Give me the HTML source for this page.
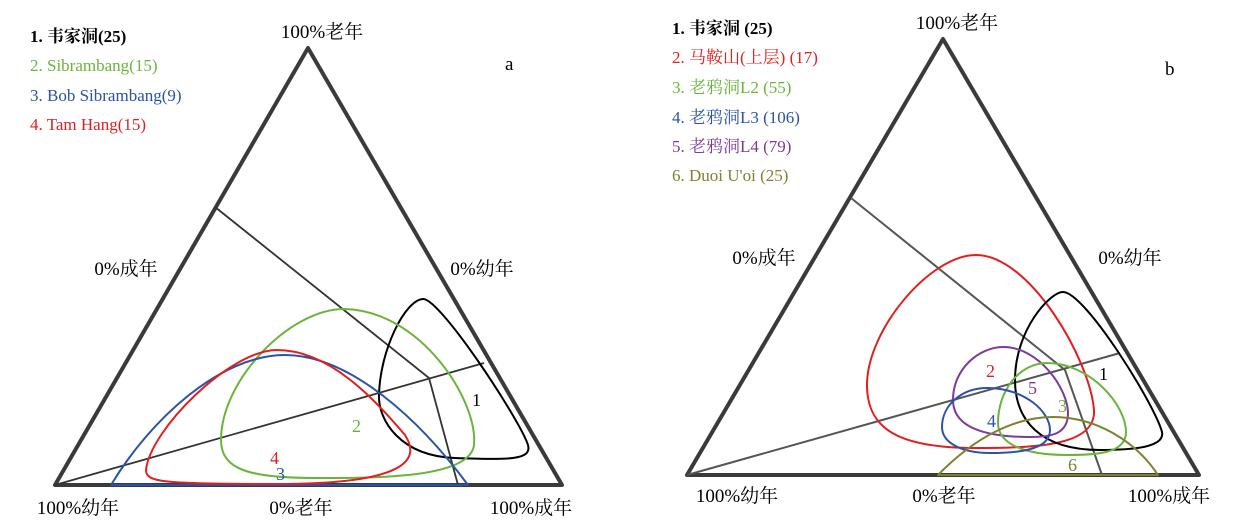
<!DOCTYPE html>
<html><head><meta charset="utf-8"><style>
html,body{margin:0;padding:0;background:#fff;}
svg{display:block;}
text{font-family:"Liberation Serif","Noto Serif CJK SC","Noto Sans CJK SC",serif;}
</style></head><body>
<svg width="1234" height="530" viewBox="0 0 1234 530" xmlns="http://www.w3.org/2000/svg">
<!-- Panel a -->
<g fill="none" stroke-linejoin="round">
<path d="M308,48 L55,485 L562,485 Z" stroke="#3a3a3a" stroke-width="4"/>
<path d="M215,207 L429,378 L458,485" stroke="#333" stroke-width="1.8"/>
<path d="M55,485 L484,363" stroke="#333" stroke-width="1.8"/>
<path d="M423,299 C440,298 520,420 528,445 C532,460 510,460 455,458 C400,456 378,420 379,395 C380,350 405,300 423,299 Z" stroke="#000" stroke-width="2"/>
<path d="M344,309 C420,310 478,400 474,445 C470,478 380,478 316,478 C250,478 221,470 221,440 C221,380 290,309 344,309 Z" stroke="#6ab43c" stroke-width="2"/>
<path d="M111,485 C150,420 220,355 285,355 C350,355 420,420 468,485 Z" stroke="#2a52a8" stroke-width="2"/>
<path d="M277,350 C330,350 375,400 405,435 C418,455 418,484 277,484 C160,484 146,482 146,470 C150,430 230,350 277,350 Z" stroke="#e02020" stroke-width="2"/>
</g>
<g font-size="18">
<text x="472" y="406" fill="#000">1</text>
<text x="352" y="432" fill="#6ab43c">2</text>
<text x="270" y="464" fill="#e02020">4</text>
<text x="276" y="480" fill="#2a52a8">3</text>
</g>
<g font-size="17">
<text x="30" y="42" fill="#000" font-weight="bold">1. 韦家洞(25)</text>
<text x="30" y="71" fill="#6ab43c">2. Sibrambang(15)</text>
<text x="30" y="101" fill="#2a52a8">3. Bob Sibrambang(9)</text>
<text x="30" y="130" fill="#e02020">4. Tam Hang(15)</text>
</g>
<text x="505" y="70" font-size="19">a</text>
<g font-size="19" text-anchor="middle" fill="#000">
<text x="322" y="38">100%老年</text>
<text x="126" y="275">0%成年</text>
<text x="482" y="275">0%幼年</text>
<text x="78" y="514">100%幼年</text>
<text x="301" y="514">0%老年</text>
<text x="531" y="514">100%成年</text>
</g>

<!-- Panel b -->
<g fill="none" stroke-linejoin="round">
<path d="M943,39 L687,475 L1199,475 Z" stroke="#3a3a3a" stroke-width="4"/>
<path d="M851,198 L1065,370 L1102,475" stroke="#555" stroke-width="2"/>
<path d="M687,475 L1120,353" stroke="#555" stroke-width="2"/>
<path d="M976,255 C1030,255 1090,360 1094,410 C1096,445 1040,448 976,448 C900,448 867,430 867,385 C867,330 930,255 976,255 Z" stroke="#e02020" stroke-width="2"/>
<path d="M1063,292 C1085,292 1155,405 1162,432 C1165,447 1135,450 1100,450 C1040,450 1015,420 1015,380 C1015,330 1050,292 1063,292 Z" stroke="#000" stroke-width="2"/>
<path d="M1003,347 C1040,347 1068,390 1068,413 C1068,435 1050,437 1030,437 C980,437 953,425 953,400 C953,368 980,347 1003,347 Z" stroke="#7d3a9a" stroke-width="2"/>
<path d="M1047,363 C1090,363 1126,405 1126,432 C1126,454 1095,455 1067,455 C1020,455 998,442 998,423 C998,390 1020,363 1047,363 Z" stroke="#6ab43c" stroke-width="2"/>
<path d="M987,388 C1025,388 1050,412 1050,430 C1050,448 1025,453 990,453 C962,453 942,443 942,427 C942,405 962,388 987,388 Z" stroke="#2a52a8" stroke-width="2"/>
<path d="M938,475 C975,437 1015,417 1053,417 C1095,417 1135,440 1158,475 Z" stroke="#808030" stroke-width="2"/>
</g>
<g font-size="18">
<text x="986" y="377" fill="#e02020">2</text>
<text x="1099" y="380" fill="#000">1</text>
<text x="1028" y="394" fill="#7d3a9a">5</text>
<text x="1058" y="412" fill="#6ab43c">3</text>
<text x="987" y="427" fill="#2a52a8">4</text>
<text x="1068" y="471" fill="#808030">6</text>
</g>
<g font-size="17">
<text x="672" y="34" fill="#000" font-weight="bold">1. 韦家洞 (25)</text>
<text x="672" y="63" fill="#e02020">2. 马鞍山(上层) (17)</text>
<text x="672" y="93" fill="#6ab43c">3. 老鸦洞L2 (55)</text>
<text x="672" y="123" fill="#2a52a8">4. 老鸦洞L3 (106)</text>
<text x="672" y="152" fill="#7d3a9a">5. 老鸦洞L4 (79)</text>
<text x="672" y="181" fill="#808030">6. Duoi U'oi (25)</text>
</g>
<text x="1165" y="75" font-size="19">b</text>
<g font-size="19" text-anchor="middle" fill="#000">
<text x="957" y="29">100%老年</text>
<text x="764" y="264">0%成年</text>
<text x="1130" y="264">0%幼年</text>
<text x="737" y="502">100%幼年</text>
<text x="944" y="502">0%老年</text>
<text x="1169" y="502">100%成年</text>
</g>
</svg>
</body></html>
